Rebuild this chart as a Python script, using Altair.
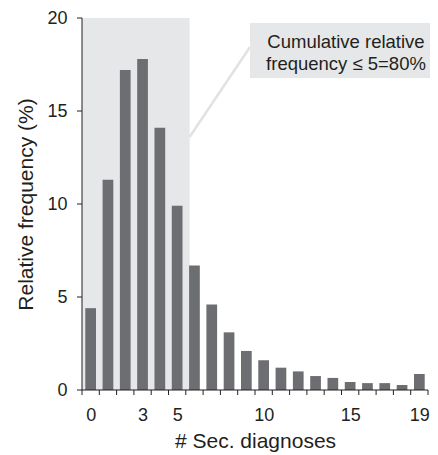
import altair as alt
import pandas as pd

# data
n_sec = list(range(20))
rel_freq = [4.4, 11.3, 17.2, 17.8, 14.1, 9.9, 6.7, 4.6, 3.1, 2.1,
            1.6, 1.2, 1.0, 0.75, 0.65, 0.43, 0.37, 0.37, 0.27, 0.86]
x_labels = [0, 3, 5, 10, 15, 19]
x_tick_edges = [i - 0.5 for i in range(21)]
y_ticks = [0, 5, 10, 15, 20]
annot_text = ["Cumulative relative", "frequency \u2264 5=80%"]

FONT = "Liberation Sans"
BAR = "#6d6e71"
SHADE = "#e6e7e8"
INK = "#231f20"

bars_df = pd.DataFrame({"k": n_sec, "f": rel_freq})
shade_df = pd.DataFrame({"x0": [-0.5], "x1": [5.72], "y0": [0], "y1": [20]})
box_df = pd.DataFrame({"x0": [9.21], "x1": [19.9], "y0": [16.77], "y1": [19.73]})
conn_df = pd.DataFrame({"x0": [5.72], "x1": [9.21], "y0": [13.6], "y1": [18.44]})
text_df = pd.DataFrame({"x": [14.76], "y": [18.71], "t": [annot_text]})
xtick_df = pd.DataFrame({"v": x_tick_edges})
ytick_df = pd.DataFrame({"v": y_ticks})
one_df = pd.DataFrame({"a": [0]})

PLOT_W = 346
PLOT_H = 372
STEP = PLOT_W / 20.0
TICK = 5

xs = alt.Scale(domain=[-0.5, 19.5], nice=False, zero=False)
ys = alt.Scale(domain=[0, 20], nice=False)

label_list = ",".join(str(v) for v in x_labels)
x_axis = alt.Axis(
    values=x_tick_edges,
    labelExpr=f"indexof([{label_list}], datum.value + 0.5) >= 0 ? '' + (datum.value + 0.5) : ''",
    labelOffset=STEP / 2, labelOverlap=False, labelFlush=False, labelBound=False,
    ticks=True, tickSize=TICK, tickOpacity=0, domain=True, domainOpacity=0,
    grid=False, labelFont=FONT, labelFontSize=18, labelColor=INK, labelPadding=11,
    title="# Sec. diagnoses", titleFont=FONT, titleFontSize=21,
    titleFontWeight="normal", titleColor=INK, titlePadding=6, zindex=2)
y_axis = alt.Axis(
    values=y_ticks, ticks=True, tickSize=TICK, tickOpacity=0, domain=True,
    domainOpacity=0, grid=False, labelFont=FONT, labelFontSize=18,
    labelColor=INK, labelPadding=10, title="Relative frequency (%)",
    titleFont=FONT, titleFontSize=21, titleFontWeight="normal",
    titleColor=INK, titlePadding=10, zindex=2)

shade = alt.Chart(shade_df).mark_rect(color=SHADE).encode(
    x=alt.X("x0:Q", scale=xs, axis=x_axis), x2="x1",
    y=alt.Y("y0:Q", scale=ys, axis=y_axis), y2="y1")

conn = alt.Chart(conn_df).mark_rule(color="#e2e2e2", strokeWidth=2.5).encode(
    x=alt.X("x0:Q", scale=xs, axis=x_axis), x2="x1",
    y=alt.Y("y0:Q", scale=ys, axis=y_axis), y2="y1")

bars = alt.Chart(bars_df).mark_rect(color=BAR).transform_calculate(
    lo="datum.k - 0.31", hi="datum.k + 0.31", base="0").encode(
    x=alt.X("lo:Q", scale=xs, axis=x_axis), x2="hi:Q",
    y=alt.Y("f:Q", scale=ys, axis=y_axis), y2="base:Q")

box = alt.Chart(box_df).mark_rect(color=SHADE).encode(
    x=alt.X("x0:Q", scale=xs, axis=x_axis), x2="x1",
    y=alt.Y("y0:Q", scale=ys, axis=y_axis), y2="y1")

text = alt.Chart(text_df).mark_text(font=FONT, fontSize=18.5, color=INK,
                                    align="center", baseline="middle",
                                    lineHeight=22).encode(
    x=alt.X("x:Q", scale=xs, axis=x_axis),
    y=alt.Y("y:Q", scale=ys, axis=y_axis),
    text="t")

# axis lines and tick marks
xticks = alt.Chart(xtick_df).mark_rule(color=INK, strokeWidth=1).encode(
    x=alt.X("v:Q", scale=xs, axis=x_axis),
    y=alt.value(PLOT_H), y2=alt.value(PLOT_H + TICK))
yticks = alt.Chart(ytick_df).mark_rule(color=INK, strokeWidth=1).encode(
    y=alt.Y("v:Q", scale=ys, axis=y_axis),
    x=alt.value(-TICK), x2=alt.value(0))
xdomain = alt.Chart(one_df).mark_rule(color=INK, strokeWidth=1).encode(
    x=alt.value(0), x2=alt.value(PLOT_W), y=alt.value(PLOT_H))
ydomain = alt.Chart(one_df).mark_rule(color=INK, strokeWidth=1).encode(
    x=alt.value(0), y=alt.value(0), y2=alt.value(PLOT_H))

chart = alt.layer(shade, conn, bars, box, text, xticks, yticks, xdomain,
                  ydomain).properties(
    width=PLOT_W, height=PLOT_H, autosize="none",
    padding={"left": 74, "top": 10, "right": 2, "bottom": 63}
).configure_view(stroke=None)

chart.save("out.html", embed_options={"renderer": "svg", "actions": False})
